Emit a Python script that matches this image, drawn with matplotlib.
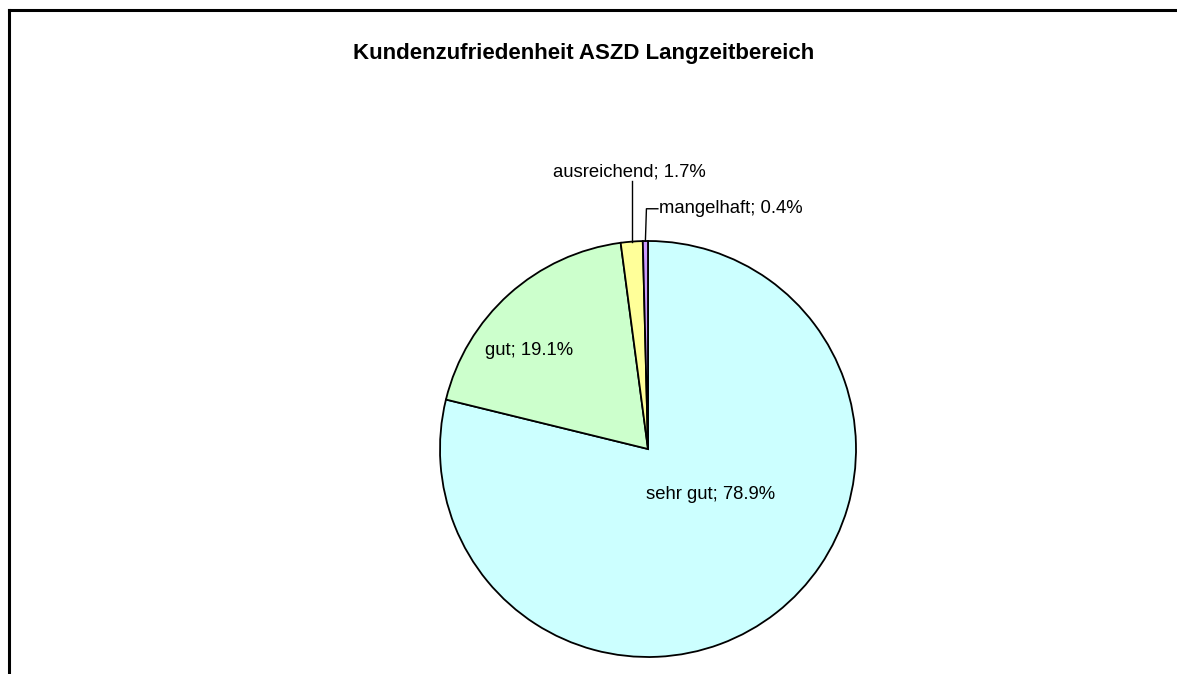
import numpy as np
import matplotlib.pyplot as plt
from matplotlib.lines import Line2D

plt.rcParams["font.family"] = ["Liberation Sans", "DejaVu Sans"]

# data
categories = ["sehr gut", "gut", "ausreichend", "mangelhaft"]
shares = [78.9, 19.1, 1.7, 0.4]
colors = ["#CCFFFF", "#CCFFCC", "#FFFF99", "#CC99FF"]

fig = plt.figure(figsize=(11.77, 6.74), dpi=100)

# chart frame (cut off at right and bottom, as in the original)
fig.add_artist(Line2D([9 / 1177, 9 / 1177], [0, 1 - 10 / 674], color="black", lw=2.2))
fig.add_artist(Line2D([9 / 1177, 1], [1 - 10 / 674, 1 - 10 / 674], color="black", lw=2.2))

fig.text(584 / 1177, 1 - 53 / 674, "Kundenzufriedenheit ASZD Langzeitbereich",
         ha="center", va="center", fontsize=16, fontweight="bold")

ax = fig.add_axes([440 / 1177, 17 / 674, 416 / 1177, 416 / 674])
wedges, _ = ax.pie(shares, colors=colors, startangle=90, counterclock=False,
                   wedgeprops=dict(edgecolor="black", linewidth=1.3))
ax.set_xlim(-1, 1)
ax.set_ylim(-1, 1)
ax.set_aspect("equal")
ax.axis("off")

labels = [f"{c}; {v:.1f}%" for c, v in zip(categories, shares)]
fs = 13.3

# inside labels
ax.text(0.30, -0.22, labels[0], ha="center", va="center", fontsize=fs)
ax.text(-0.57, 0.475, labels[1], ha="center", va="center", fontsize=fs)

# ausreichend: vertical leader, text centred above
w = wedges[2]
a = np.deg2rad((w.theta1 + w.theta2) / 2)
x0, y0 = np.cos(a), np.sin(a)
ax.plot([x0, x0], [y0, 1.29], color="black", lw=1, clip_on=False)
ax.text(x0 - 0.01, 1.29, labels[2], ha="center", va="bottom", fontsize=fs)

# mangelhaft: elbow leader, text to the right
w = wedges[3]
a = np.deg2rad((w.theta1 + w.theta2) / 2)
x0, y0 = np.cos(a), np.sin(a)
ax.plot([x0, x0 + 0.005, x0 + 0.06], [y0, 1.155, 1.155], color="black", lw=1, clip_on=False)
ax.text(x0 + 0.065, 1.155, labels[3], ha="left", va="center", fontsize=fs)

fig.savefig("out.png", dpi=100, facecolor="white")
